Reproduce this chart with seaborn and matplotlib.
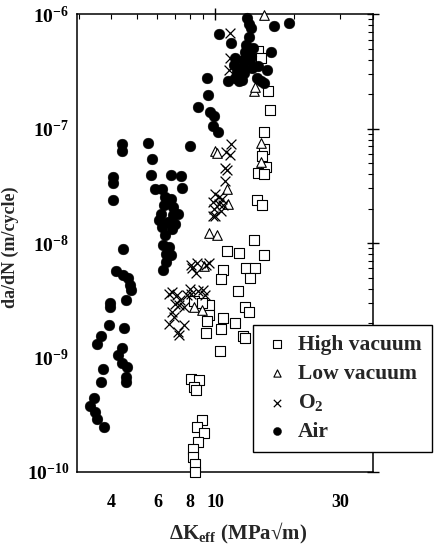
import numpy as np
import pandas as pd
import matplotlib
matplotlib.use("Agg")
import matplotlib.pyplot as plt
import seaborn as sns
from matplotlib.ticker import FixedLocator, NullFormatter

# ---------------- data ----------------
air_dk = [4.39,4.38,5.52,5.74,5.65,4.07,4.07,4.04,4.45,4.15,4.44,4.64,4.71,4.74,4.56,3.95,3.95,3.92,4.47,3.64,
          3.53,4.40,4.24,4.41,4.60,4.55,4.54,3.72,3.64,3.43,3.31,3.45,3.53,3.74,
          7.98,6.79,7.36,5.88,6.25,7.45,6.40,6.79,6.38,6.89,6.19,6.87,7.18,6.07,6.56,7.03,6.27,6.84,6.41,6.28,
          6.67,6.49,6.77,6.47,6.33,
          13.2,13.5,13.7,16.7,19.1,10.3,11.5,13.5,13.1,13.9,13.0,13.7,16.3,11.9,12.7,13.6,11.8,12.7,13.8,14.5,
          12.1,12.9,15.8,11.9,12.6,14.4,15.0,15.3,11.2,12.3,9.27,9.38,8.55,9.55,9.89,9.77,10.2]
air_rate = [7.28e-8,6.32e-8,7.43e-8,5.48e-8,3.90e-8,3.78e-8,3.35e-8,2.38e-8,8.85e-9,5.73e-9,5.26e-9,4.93e-9,
            4.28e-9,3.87e-9,3.18e-9,2.97e-9,2.74e-9,1.91e-9,1.81e-9,1.54e-9,1.32e-9,1.22e-9,1.06e-9,9.0e-10,
            8.28e-10,6.78e-10,6.13e-10,7.93e-10,6.12e-10,4.47e-10,3.74e-10,3.37e-10,2.92e-10,2.48e-10,
            7.06e-8,3.92e-8,3.82e-8,2.94e-8,2.98e-8,3.05e-8,2.54e-8,2.42e-8,2.16e-8,2.06e-8,1.81e-8,1.75e-8,
            1.78e-8,1.60e-8,1.53e-8,1.46e-8,1.39e-8,1.33e-8,1.18e-8,9.7e-9,9.27e-9,8.07e-9,7.88e-9,6.87e-9,5.87e-9,
            9.18e-7,8.28e-7,7.63e-7,7.82e-7,8.37e-7,6.66e-7,5.62e-7,6.38e-7,5.35e-7,5.11e-7,4.65e-7,4.35e-7,
            4.65e-7,4.14e-7,3.96e-7,3.94e-7,3.61e-7,3.44e-7,3.42e-7,3.55e-7,3.13e-7,3.05e-7,3.25e-7,2.77e-7,
            2.65e-7,2.79e-7,2.61e-7,2.51e-7,2.63e-7,2.61e-7,2.78e-7,1.98e-7,1.53e-7,1.40e-7,1.29e-7,1.06e-7,9.33e-8]

o2_dk = [11.4,11.4,11.3,11.5,11.0,11.4,10.9,11.1,10.9,9.95,10.3,10.6,9.83,10.3,10.7,9.89,10.5,9.78,10.0,8.05,
         8.49,9.18,8.11,8.46,9.44,6.67,6.85,7.16,7.33,7.01,7.26,7.57,7.96,8.03,8.93,9.16,6.80,6.92,6.65,7.59,
         7.18,7.23,8.55,7.82]
o2_rate = [6.88e-7,4.16e-7,3.28e-7,7.28e-8,6.21e-8,5.83e-8,4.52e-8,4.33e-8,3.48e-8,2.70e-8,2.54e-8,2.43e-8,
           2.30e-8,2.20e-8,2.15e-8,2.00e-8,1.91e-8,1.74e-8,1.73e-8,6.48e-9,6.71e-9,6.41e-9,6.10e-9,5.50e-9,
           6.65e-9,3.61e-9,3.75e-9,3.52e-9,3.18e-9,2.94e-9,2.88e-9,2.75e-9,3.94e-9,3.56e-9,3.89e-9,3.52e-9,
           2.51e-9,2.27e-9,1.98e-9,1.92e-9,1.68e-9,1.57e-9,3.83e-9,3.49e-9]

lowvac_dk = [15.4,14.0,14.2,10.0,10.1,14.9,15.0,11.1,11.2,9.46,10.1,9.01,8.26,8.87]
lowvac_rate = [9.8e-7,2.15e-7,2.33e-7,6.38e-8,6.14e-8,7.55e-8,5.06e-8,2.96e-8,2.19e-8,1.22e-8,1.18e-8,
               6.30e-9,2.74e-9,2.61e-9]

highvac_dk = [14.5,14.9,15.9,16.2,15.4,15.4,15.1,15.6,14.5,15.4,14.4,15.1,14.0,11.1,12.3,15.3,10.7,10.5,13.1,
              14.2,13.6,12.2,13.0,13.4,9.46,8.29,8.90,9.42,9.31,10.7,10.5,11.9,9.19,10.4,12.8,13.0,8.05,8.63,
              8.25,8.45,8.90,8.49,9.01,8.59,8.19,8.24,8.36,8.33]
highvac_rate = [4.79e-7,4.15e-7,2.13e-7,1.46e-7,9.39e-8,6.67e-8,5.81e-8,4.65e-8,4.06e-8,4.05e-8,2.36e-8,
                2.17e-8,1.06e-8,8.53e-9,8.12e-9,7.82e-9,5.85e-9,4.89e-9,6.10e-9,6.07e-9,4.98e-9,3.79e-9,
                2.74e-9,2.52e-9,2.87e-9,3.14e-9,3.00e-9,2.35e-9,2.08e-9,2.23e-9,1.79e-9,2.00e-9,1.64e-9,
                1.13e-9,1.53e-9,1.47e-9,6.46e-10,6.30e-10,5.50e-10,5.16e-10,2.87e-10,2.45e-10,2.21e-10,
                1.82e-10,1.58e-10,1.35e-10,1.17e-10,1.0e-10]

series_names = ["High vacuum", "Low vacuum", "O$_2$", "Air"]
x_ticklabels = {4: "4", 6: "6", 8: "8", 10: "10", 30: "30"}
y_ticks = [1e-10, 1e-9, 1e-8, 1e-7, 1e-6]
y_ticklabels = ["10$^{-10}$", "10$^{-9}$", "10$^{-8}$", "10$^{-7}$", "10$^{-6}$"]

# ---------------- style ----------------
sns.set_style("white")
plt.rcParams["font.family"] = ["Liberation Serif", "DejaVu Serif"]
plt.rcParams["font.weight"] = "bold"
plt.rcParams["mathtext.fontset"] = "custom"
plt.rcParams["mathtext.rm"] = "Liberation Serif:bold"
plt.rcParams["mathtext.it"] = "Liberation Serif:bold"
plt.rcParams["mathtext.bf"] = "Liberation Serif:bold"
plt.rcParams["mathtext.default"] = "rm"

fig = plt.figure(figsize=(4.34, 5.45), dpi=100)
ax = fig.add_axes([0.177, 0.134, 0.682, 0.840])

df_hv = pd.DataFrame({"dK": highvac_dk, "rate": highvac_rate})
df_lv = pd.DataFrame({"dK": lowvac_dk, "rate": lowvac_rate})
df_o2 = pd.DataFrame({"dK": o2_dk, "rate": o2_rate})
df_air = pd.DataFrame({"dK": air_dk, "rate": air_rate})

sns.scatterplot(data=df_hv, x="dK", y="rate", ax=ax, marker="s", s=52, color="white",
                edgecolor="black", linewidth=0.8, label=series_names[0], clip_on=False, zorder=3)
sns.scatterplot(data=df_lv, x="dK", y="rate", ax=ax, marker="^", s=48, color="white",
                edgecolor="black", linewidth=0.8, label=series_names[1], clip_on=False, zorder=3)
sns.scatterplot(data=df_o2, x="dK", y="rate", ax=ax, marker="x", s=50, color="black",
                linewidth=0.9, label=series_names[2], clip_on=False, zorder=4)
sns.scatterplot(data=df_air, x="dK", y="rate", ax=ax, marker="o", s=60, color="black",
                edgecolor="black", linewidth=0.3, label=series_names[3], clip_on=False, zorder=5)

ax.set_xscale("log")
ax.set_yscale("log")
ax.set_xlim(2.95, 40)
ax.set_ylim(1e-10, 1e-6)

# x ticks
ax.xaxis.set_major_locator(FixedLocator([10]))
ax.set_xticklabels([x_ticklabels[10]])
minor_x = [3, 4, 5, 6, 7, 8, 9, 20, 30, 40]
ax.xaxis.set_minor_locator(FixedLocator(minor_x))
ax.set_xticklabels([x_ticklabels.get(v, "") for v in minor_x], minor=True)

# y ticks
ax.set_yticks(y_ticks)
ax.set_yticklabels(y_ticklabels)
minor_y = [m * 10.0 ** e for e in range(-10, -6) for m in range(2, 10)]
ax.yaxis.set_minor_locator(FixedLocator(minor_y))
ax.yaxis.set_minor_formatter(NullFormatter())

for s in ax.spines.values():
    s.set_visible(True)
    s.set_color("black")
    s.set_linewidth(1.1)

ax.tick_params(which="major", direction="inout", length=9, width=1.0, top=True, right=True,
               colors="black")
ax.tick_params(which="minor", direction="in", length=3.5, width=0.8, top=True, right=True,
               colors="black")
ax.tick_params(axis="x", which="minor", pad=16, labelsize=13)
ax.tick_params(axis="x", which="major", pad=11.5, labelsize=13)
ax.tick_params(axis="y", which="both", pad=1, labelsize=14)
for lab in ax.get_xticklabels(which="both") + ax.get_yticklabels():
    lab.set_fontweight("bold")

ax.set_xlabel("ΔK$_{\\mathrm{eff}}$ (MPa√m)", fontsize=15, fontweight="bold")
ax.xaxis.set_label_coords(0.545, -0.108)
ax.set_ylabel("da/dN (m/cycle)", fontsize=13, fontweight="bold")
ax.yaxis.set_label_coords(-0.195, 0.49)

leg = ax.legend(loc="lower left", bbox_to_anchor=(0.583, 0.171), bbox_transform=fig.transFigure,
                frameon=True, fancybox=False, framealpha=1, edgecolor="black",
                prop={"family": "Liberation Serif", "weight": "bold", "size": 15.5},
                handletextpad=0.35, labelspacing=0.4, borderpad=0.45, handlelength=1.3,
                borderaxespad=0, markerscale=0.75)
leg.get_frame().set_linewidth(1.0)
leg.set_zorder(10)

fig.savefig("out.png", dpi=100)
